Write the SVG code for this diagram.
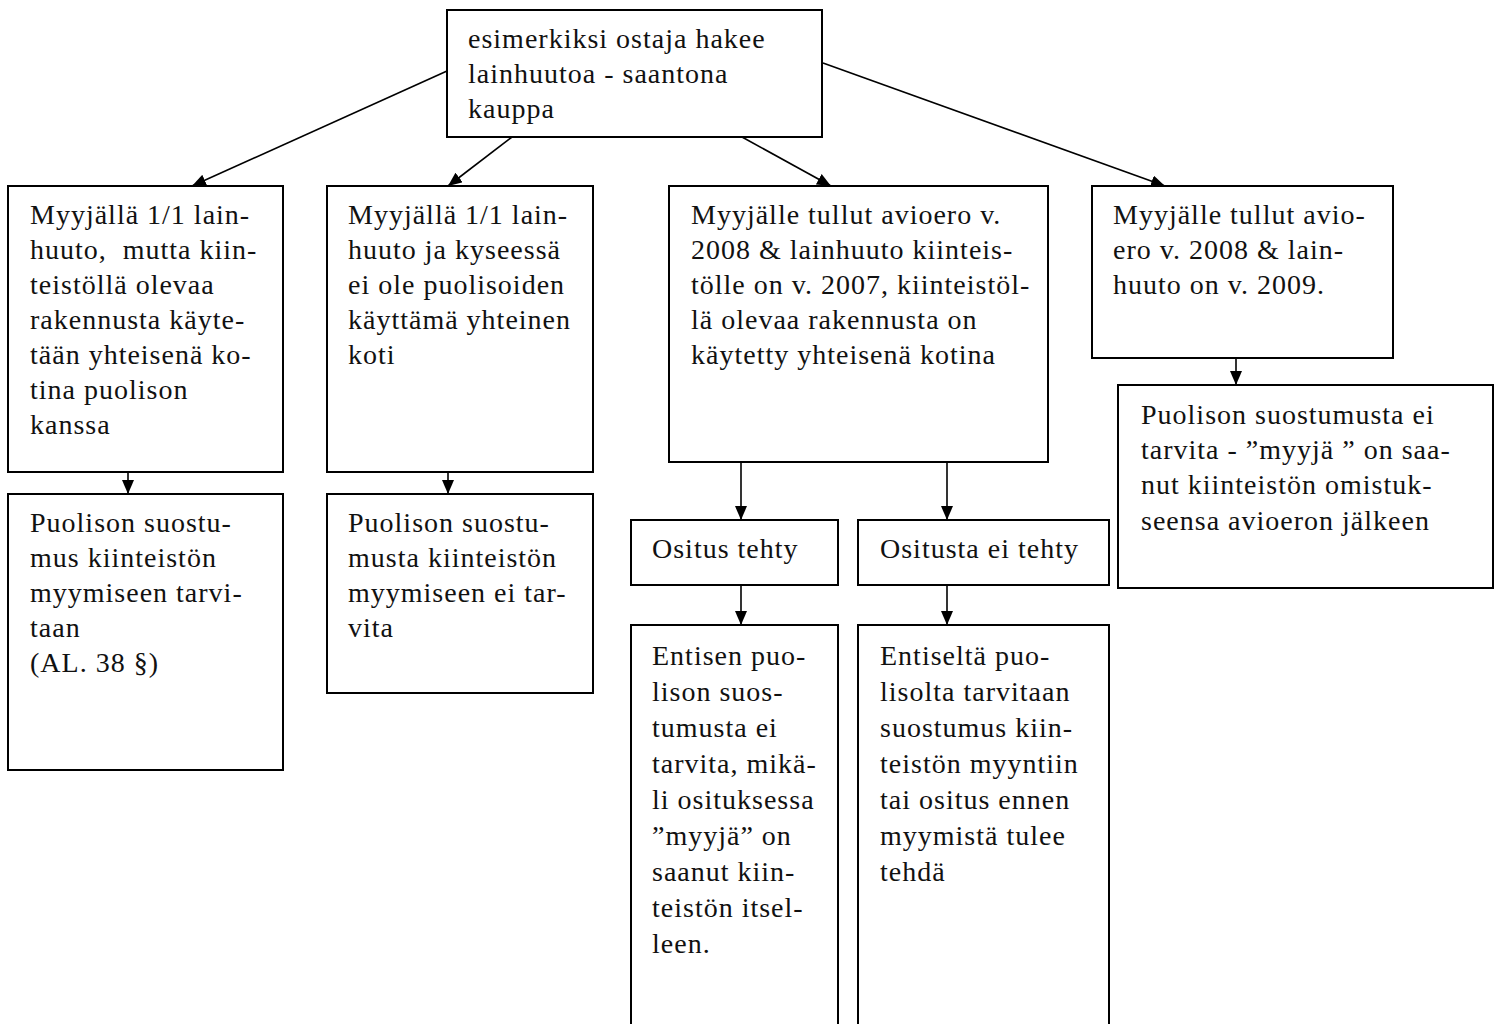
<svg xmlns="http://www.w3.org/2000/svg" width="1502" height="1024" viewBox="0 0 1502 1024">
<style>
.box{fill:#fff;stroke:#000;stroke-width:2}
.t{font-family:'Liberation Serif','DejaVu Serif',serif;font-size:28px;letter-spacing:1px;fill:#111;white-space:pre}
.c{fill:none;stroke:#000;stroke-width:1.6}
</style>
<defs>
<marker id="ah" markerUnits="userSpaceOnUse" markerWidth="14" markerHeight="12" viewBox="0 0 14 12" refX="14" refY="6" orient="auto">
<path d="M0,0 L14,6 L0,12 z" fill="#000"/>
</marker>
</defs>
<rect width="1502" height="1024" fill="#fff"/>
<g id="connectors">
<line class="c" x1="447" y1="71" x2="192" y2="186" marker-end="url(#ah)"/>
<line class="c" x1="512" y1="137" x2="448" y2="186" marker-end="url(#ah)"/>
<line class="c" x1="742" y1="137" x2="831" y2="186" marker-end="url(#ah)"/>
<line class="c" x1="823" y1="63" x2="1165" y2="186" marker-end="url(#ah)"/>
<line class="c" x1="128" y1="463" x2="128" y2="494" marker-end="url(#ah)"/>
<line class="c" x1="448" y1="463" x2="448" y2="494" marker-end="url(#ah)"/>
<line class="c" x1="741" y1="455" x2="741" y2="520" marker-end="url(#ah)"/>
<line class="c" x1="947" y1="455" x2="947" y2="520" marker-end="url(#ah)"/>
<line class="c" x1="741" y1="585" x2="741" y2="625" marker-end="url(#ah)"/>
<line class="c" x1="947" y1="585" x2="947" y2="625" marker-end="url(#ah)"/>
<line class="c" x1="1236" y1="353" x2="1236" y2="385" marker-end="url(#ah)"/>
</g>
<g id="top">
<rect class="box" x="447" y="10" width="375" height="127"/>
<text class="t" x="468" y="48">esimerkiksi ostaja hakee</text>
<text class="t" x="468" y="83">lainhuutoa - saantona</text>
<text class="t" x="468" y="118">kauppa</text>
</g>
<g id="b1">
<rect class="box" x="8" y="186" width="275" height="286"/>
<text class="t" x="30" y="224">Myyjällä 1/1 lain-</text>
<text class="t" x="30" y="259">huuto,  mutta kiin-</text>
<text class="t" x="30" y="294">teistöllä olevaa</text>
<text class="t" x="30" y="329">rakennusta käyte-</text>
<text class="t" x="30" y="364">tään yhteisenä ko-</text>
<text class="t" x="30" y="399">tina puolison</text>
<text class="t" x="30" y="434">kanssa</text>
</g>
<g id="b2">
<rect class="box" x="327" y="186" width="266" height="286"/>
<text class="t" x="348" y="224">Myyjällä 1/1 lain-</text>
<text class="t" x="348" y="259">huuto ja kyseessä</text>
<text class="t" x="348" y="294">ei ole puolisoiden</text>
<text class="t" x="348" y="329">käyttämä yhteinen</text>
<text class="t" x="348" y="364">koti</text>
</g>
<g id="b3">
<rect class="box" x="669" y="186" width="379" height="276"/>
<text class="t" x="691" y="224">Myyjälle tullut avioero v.</text>
<text class="t" x="691" y="259">2008 &amp; lainhuuto kiinteis-</text>
<text class="t" x="691" y="294">tölle on v. 2007, kiinteistöl-</text>
<text class="t" x="691" y="329">lä olevaa rakennusta on</text>
<text class="t" x="691" y="364">käytetty yhteisenä kotina</text>
</g>
<g id="b4">
<rect class="box" x="1092" y="186" width="301" height="172"/>
<text class="t" x="1113" y="224">Myyjälle tullut avio-</text>
<text class="t" x="1113" y="259">ero v. 2008 &amp; lain-</text>
<text class="t" x="1113" y="294">huuto on v. 2009.</text>
</g>
<g id="b1b">
<rect class="box" x="8" y="494" width="275" height="276"/>
<text class="t" x="30" y="532">Puolison suostu-</text>
<text class="t" x="30" y="567">mus kiinteistön</text>
<text class="t" x="30" y="602">myymiseen tarvi-</text>
<text class="t" x="30" y="637">taan</text>
<text class="t" x="30" y="672">(AL. 38 §)</text>
</g>
<g id="b2b">
<rect class="box" x="327" y="494" width="266" height="199"/>
<text class="t" x="348" y="532">Puolison suostu-</text>
<text class="t" x="348" y="567">musta kiinteistön</text>
<text class="t" x="348" y="602">myymiseen ei tar-</text>
<text class="t" x="348" y="637">vita</text>
</g>
<g id="o1">
<rect class="box" x="631" y="520" width="207" height="65"/>
<text class="t" x="652" y="558">Ositus tehty</text>
</g>
<g id="o2">
<rect class="box" x="858" y="520" width="251" height="65"/>
<text class="t" x="880" y="558">Ositusta ei tehty</text>
</g>
<g id="e1">
<rect class="box" x="631" y="625" width="207" height="410"/>
<text class="t" x="652" y="665">Entisen puo-</text>
<text class="t" x="652" y="701">lison suos-</text>
<text class="t" x="652" y="737">tumusta ei</text>
<text class="t" x="652" y="773">tarvita, mikä-</text>
<text class="t" x="652" y="809">li osituksessa</text>
<text class="t" x="652" y="845">”myyjä” on</text>
<text class="t" x="652" y="881">saanut kiin-</text>
<text class="t" x="652" y="917">teistön itsel-</text>
<text class="t" x="652" y="953">leen.</text>
</g>
<g id="e2">
<rect class="box" x="858" y="625" width="251" height="410"/>
<text class="t" x="880" y="665">Entiseltä puo-</text>
<text class="t" x="880" y="701">lisolta tarvitaan</text>
<text class="t" x="880" y="737">suostumus kiin-</text>
<text class="t" x="880" y="773">teistön myyntiin</text>
<text class="t" x="880" y="809">tai ositus ennen</text>
<text class="t" x="880" y="845">myymistä tulee</text>
<text class="t" x="880" y="881">tehdä</text>
</g>
<g id="b4b">
<rect class="box" x="1118" y="385" width="375" height="203"/>
<text class="t" x="1141" y="424">Puolison suostumusta ei</text>
<text class="t" x="1141" y="459">tarvita - ”myyjä ” on saa-</text>
<text class="t" x="1141" y="494">nut kiinteistön omistuk-</text>
<text class="t" x="1141" y="530">seensa avioeron jälkeen</text>
</g>
</svg>
